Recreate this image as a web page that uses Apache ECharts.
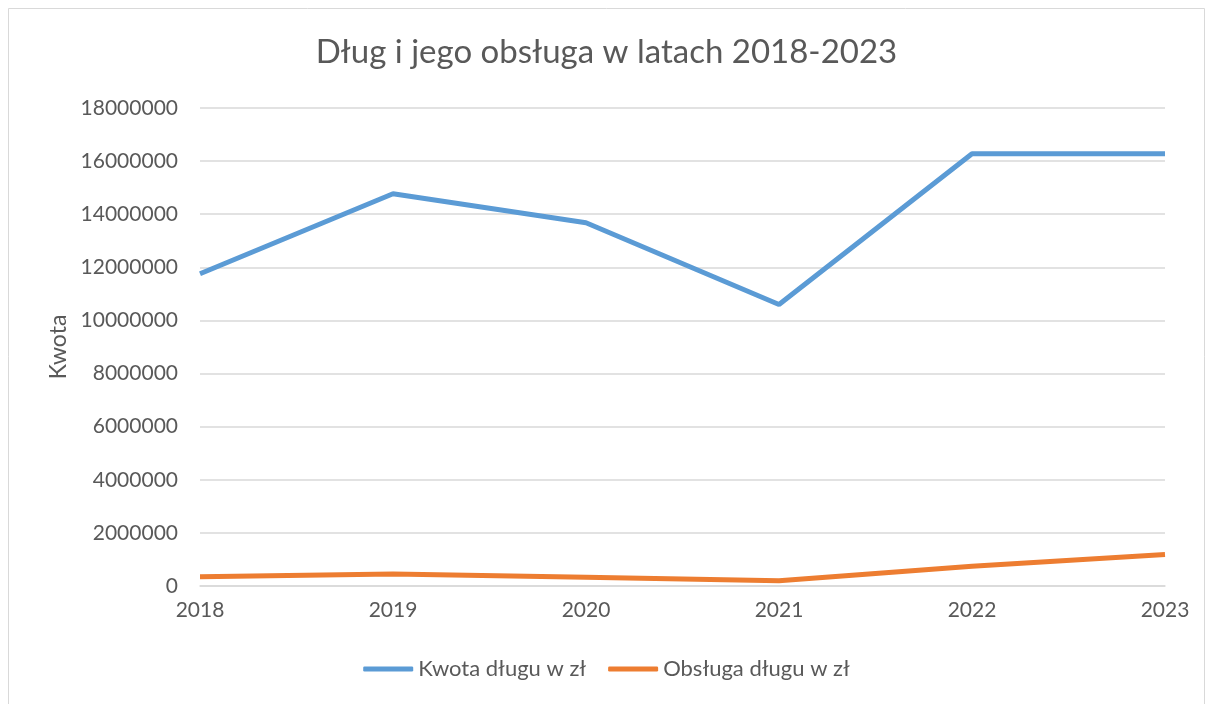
<!DOCTYPE html>
<html>
<head>
<meta charset="utf-8">
<script src="https://cdn.jsdelivr.net/npm/echarts@6/dist/echarts.min.js"></script>
<style>
html,body{margin:0;padding:0;background:#fff;}
#chart{width:1213px;height:704px;}
</style>
</head>
<body>
<div id="chart"></div>
<script>
// dane
var years = ['2018','2019','2020','2021','2022','2023'];
var kwotaDlugu = [11760000, 14770000, 13680000, 10600000, 16280000, 16280000];
var obslugaDlugu = [350000, 455000, 330000, 200000, 740000, 1190000];
var yTicks = [0, 2000000, 18000000];

var txt = '#595959';
var font = 'Lato, "Open Sans", sans-serif';

var mychart = echarts.init(document.getElementById('chart'));
var option = {
    backgroundColor: '#fff',
    textStyle: {fontFamily: font},
    graphic: [{
        type: 'rect',
        shape: {x: 8.5, y: 8.5, width: 1196, height: 700},
        style: {fill: 'none', stroke: '#d9d9d9', lineWidth: 1},
        silent: true
    }],
    title: {
        text: 'Dług i jego obsługa w latach 2018-2023',
        left: 'center',
        top: 31,
        textStyle: {color: txt, fontSize: 33, fontWeight: 'normal', fontFamily: font}
    },
    legend: {
        bottom: 19,
        left: 'center',
        itemWidth: 50,
        itemHeight: 5,
        itemGap: 22,
        icon: 'roundRect',
        textStyle: {color: txt, fontSize: 22, fontFamily: font},
        data: ['Kwota długu w zł', 'Obsługa długu w zł']
    },
    grid: {left: 200, right: 48, top: 108, bottom: 118},
    xAxis: {
        type: 'category',
        boundaryGap: false,
        data: years,
        axisLine: {lineStyle: {color: '#d9d9d9', width: 1.5}},
        axisTick: {show: false},
        axisLabel: {color: txt, fontSize: 21, margin: 14, fontFamily: font}
    },
    yAxis: {
        type: 'value',
        min: yTicks[0],
        max: yTicks[2],
        interval: yTicks[1],
        name: 'Kwota',
        nameLocation: 'middle',
        nameGap: 128,
        nameTextStyle: {color: txt, fontSize: 23, fontFamily: font},
        axisLine: {show: false},
        axisTick: {show: false},
        splitLine: {lineStyle: {color: '#d9d9d9', width: 1.5}},
        axisLabel: {
            color: txt, fontSize: 21, margin: 22, fontFamily: font,
            formatter: function(v){ return String(v); }
        }
    },
    series: [
        {
            name: 'Kwota długu w zł',
            type: 'line',
            data: kwotaDlugu,
            symbol: 'none',
            color: '#5b9bd5',
            lineStyle: {width: 5, color: '#5b9bd5'}
        },
        {
            name: 'Obsługa długu w zł',
            type: 'line',
            data: obslugaDlugu,
            symbol: 'none',
            color: '#ed7d31',
            lineStyle: {width: 5, color: '#ed7d31'}
        }
    ]
};
mychart.setOption(option);
</script>
</body>
</html>
